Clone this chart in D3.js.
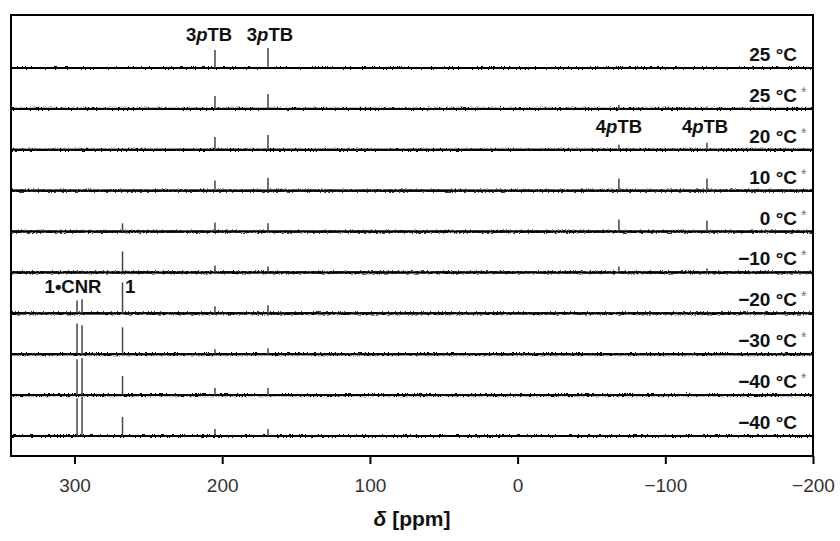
<!DOCTYPE html>
<html>
<head>
<meta charset="utf-8">
<script src="https://cdn.jsdelivr.net/npm/d3@7"></script>
<style>
  body { margin: 0; background: #fff; }
  text { font-family: "Liberation Sans", Arial, sans-serif; }
</style>
</head>
<body>
<svg id="chart" width="840" height="541"></svg>
<script>
// chemical shift axis
const xDomain = [343, -200];
const xTicks = [300, 200, 100, 0, -100, -200];

// one trace per temperature, top to bottom
const tempLabels = ["25 °C", "25 °C", "20 °C", "10 °C", "0 °C", "−10 °C", "−20 °C", "−30 °C", "−40 °C", "−40 °C"];
const starred = [false, true, true, true, true, true, true, true, true, false];

// peak positions (ppm): 1•CNR, 1•CNR, 1, 3pTB, 3pTB, 4pTB, 4pTB
const peakShifts = [298.3, 294.9, 267.5, 204.9, 169.0, -68.6, -128.2];

// relative intensities (% of tallest peak), one row per trace
const intensities = [
  [0, 0, 0, 46, 51, 0, 0],
  [0, 0, 0, 33, 38, 10, 5],
  [0, 0, 0, 33, 38, 13, 18],
  [0, 0, 0, 26, 33, 31, 31],
  [0, 0, 21, 23, 21, 31, 28],
  [5, 5, 54, 18, 15, 15, 10],
  [33, 36, 79, 18, 21, 0, 0],
  [79, 74, 69, 13, 15, 0, 0],
  [92, 95, 49, 18, 18, 0, 0],
  [97, 100, 49, 18, 18, 0, 0]
];

// peak annotations
const noteText = ["3<i>p</i>TB", "3<i>p</i>TB", "4<i>p</i>TB", "4<i>p</i>TB", "1•CNR", "1"];
const noteShift = [208.9, 167.7, -68.6, -126.9, 301, 265.8];
const noteTrace = [0, 0, 2, 2, 6, 6];
const noteLift = [69, 69, 44, 44, 51, 51];
const noteAnchor = ["middle", "middle", "middle", "middle", "middle", "start"];

const svg = d3.select("#chart");
const mLeft = 11, mRight = 813, mTop = 15, mBottom = 456;

const x = d3.scaleLinear().domain(xDomain).range([mLeft, mRight]);
const traceY = d3.scalePoint().domain(d3.range(tempLabels.length)).range([68, 436]);
const yInt = d3.scaleLinear().domain([0, 100]).range([0, 39]);

const defs = svg.append("defs");
const f = defs.append("filter").attr("id", "fuzz")
  .attr("filterUnits", "userSpaceOnUse")
  .attr("x", 0).attr("y", 0).attr("width", 840).attr("height", 541);
f.append("feTurbulence").attr("type", "fractalNoise")
  .attr("baseFrequency", "0.6 0.9").attr("numOctaves", 2).attr("seed", 4).attr("result", "n");
f.append("feDisplacementMap").attr("in", "SourceGraphic").attr("in2", "n")
  .attr("scale", 4).attr("xChannelSelector", "R").attr("yChannelSelector", "G");

const line = d3.line().x(d => x(d[0])).y(d => d[1]);

tempLabels.forEach((lab, i) => {
  const y0 = traceY(i);
  const g = svg.append("g");

  // baseline
  g.append("path")
    .attr("d", line([[xDomain[0], y0], [xDomain[1], y0]]))
    .attr("stroke", "#000").attr("stroke-width", 2).attr("fill", "none");
  g.append("path")
    .attr("d", line([[xDomain[0], y0], [xDomain[1], y0]]))
    .attr("stroke", "#000").attr("stroke-width", 2.2).attr("fill", "none")
    .attr("filter", "url(#fuzz)");

  // peaks
  peakShifts.forEach((p, k) => {
    const h = intensities[i][k];
    if (!h) return;
    g.append("path")
      .attr("d", line([[p, y0], [p, y0 - yInt(h)]]))
      .attr("stroke", "#444").attr("stroke-width", 1.5).attr("fill", "none");
  });

  // temperature label
  g.append("text")
    .attr("x", 797).attr("y", y0 - 7)
    .attr("text-anchor", "end")
    .attr("font-size", 19).attr("font-weight", "bold").attr("fill", "#111")
    .text(lab);
  if (starred[i]) {
    g.append("text")
      .attr("x", 801).attr("y", y0 - 12)
      .attr("font-size", 14).attr("fill", "#777")
      .text("*");
  }
});

// peak annotations
noteText.forEach((t, j) => {
  const txt = svg.append("text")
    .attr("x", x(noteShift[j]))
    .attr("y", traceY(noteTrace[j]) - yInt(noteLift[j]))
    .attr("text-anchor", noteAnchor[j])
    .attr("font-size", 18.5).attr("font-weight", "bold").attr("fill", "#111");
  t.split(/<\/?i>/).forEach((part, n) => {
    if (!part) return;
    txt.append("tspan").attr("font-style", n % 2 ? "italic" : "normal").text(part);
  });
});

// frame
svg.append("rect")
  .attr("x", mLeft).attr("y", mTop)
  .attr("width", mRight - mLeft).attr("height", mBottom - mTop)
  .attr("fill", "none").attr("stroke", "#000").attr("stroke-width", 2);

// x axis
const ax = svg.append("g")
  .attr("transform", `translate(0,${mBottom})`)
  .call(d3.axisBottom(x).tickValues(xTicks).tickSize(8)
    .tickFormat(d => d < 0 ? "−" + Math.abs(d) : d));
ax.select(".domain").remove();
ax.selectAll(".tick line").attr("stroke", "#000").attr("stroke-width", 2);
ax.selectAll(".tick text")
  .attr("y", 36).attr("dy", 0)
  .attr("font-size", 19).attr("fill", "#333")
  .attr("font-family", "'Liberation Sans', Arial, sans-serif");

const title = svg.append("text")
  .attr("x", (mLeft + mRight) / 2).attr("y", 526)
  .attr("text-anchor", "middle")
  .attr("font-size", 21).attr("font-weight", "bold").attr("fill", "#111");
title.append("tspan").attr("font-style", "italic").text("δ");
title.append("tspan").text(" [ppm]");
</script>
</body>
</html>
